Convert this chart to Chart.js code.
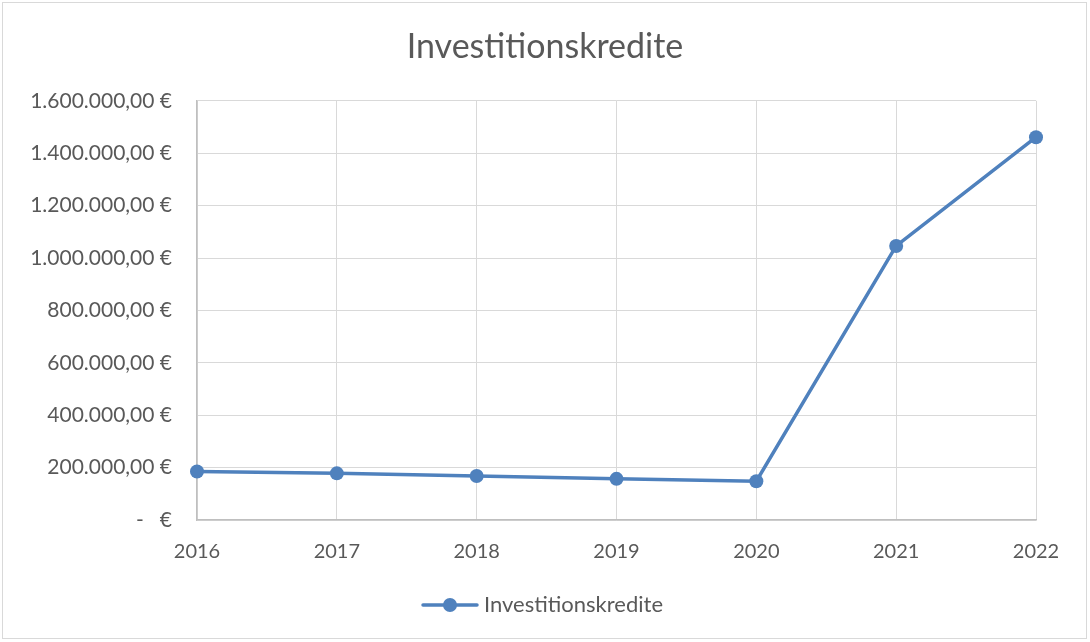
<!DOCTYPE html>
<html><head><meta charset="utf-8">
<script src="https://cdn.jsdelivr.net/npm/chart.js@4/dist/chart.umd.min.js"></script>
<style>html,body{margin:0;padding:0;background:#fff}#wrap{position:absolute;left:0;top:0;width:1090px;height:642px}</style>
</head><body><div id="wrap"><canvas id="c" width="1090" height="642"></canvas></div>
<script>
const chartTitle = 'Investitionskredite';
const years = ['2016','2017','2018','2019','2020','2021','2022'];
const seriesName = 'Investitionskredite';
const values = [185000, 178000, 168000, 157000, 148000, 1046000, 1461000];
const yMin = 0, yMax = 1600000, yStep = 200000;

const FONT = 'Lato, "Open Sans", sans-serif';
const TXT = '#595959';
const BLUE = '#4f81bd';

// legend marker: line with circle
const mk = document.createElement('canvas');
mk.width = 58; mk.height = 16;
(function(){const g=mk.getContext('2d');g.strokeStyle=BLUE;g.lineWidth=3.5;g.lineCap='round';g.beginPath();g.moveTo(2,8);g.lineTo(56,8);g.stroke();g.fillStyle=BLUE;g.beginPath();g.arc(29,8,7,0,Math.PI*2);g.fill();})();

function fmt(v){
  if (v === 0) return '-   €';
  return v.toLocaleString('de-DE',{minimumFractionDigits:2,maximumFractionDigits:2}) + ' €';
}

const borderPlugin = {id:'outerBorder', beforeDraw(ch){const g=ch.ctx;g.save();g.fillStyle='#fff';g.fillRect(0,0,ch.width,ch.height);g.strokeStyle='#d9d9d9';g.lineWidth=1;g.strokeRect(2.5,2.5,1084,636);g.restore();}};

new Chart(document.getElementById('c'), {
  type:'line',
  data:{labels:years, datasets:[{label:seriesName, data:values, borderColor:BLUE, backgroundColor:BLUE, borderWidth:3.5, pointRadius:7, pointHoverRadius:7, pointBackgroundColor:BLUE, pointBorderColor:BLUE, pointBorderWidth:0, tension:0}]},
  options:{
    responsive:false, animation:false, devicePixelRatio:1,
    layout:{padding:{left:0,right:0,top:0,bottom:16}},
    plugins:{
      title:{display:true,text:chartTitle,color:TXT,font:{family:FONT,size:34,weight:'normal'},padding:{top:27,bottom:33}},
      legend:{position:'bottom',labels:{usePointStyle:true,pointStyle:mk,pointStyleWidth:46,color:TXT,font:{family:FONT,size:22},padding:10}},
      tooltip:{enabled:false}
    },
    scales:{
      x:{grid:{color:'#d9d9d9',drawTicks:false},border:{color:'#bfbfbf',width:1.5},ticks:{color:TXT,font:{family:FONT,size:20},padding:20,maxRotation:0},
        afterFit(s){s.height=64;}},
      y:{min:yMin,max:yMax,grid:{color:'#d9d9d9',drawTicks:false},border:{color:'#bfbfbf',width:1.5},
        ticks:{stepSize:yStep,color:TXT,font:{family:FONT,size:21},padding:25,callback:(v)=>fmt(v)},
        afterFit(s){s.width=197;}},
      yRight:{position:'right',min:yMin,max:yMax,display:true,grid:{display:false,drawTicks:false},border:{display:false},ticks:{display:false},
        afterFit(s){s.width=54;}}
    }
  },
  plugins:[borderPlugin]
});
</script></body></html>
